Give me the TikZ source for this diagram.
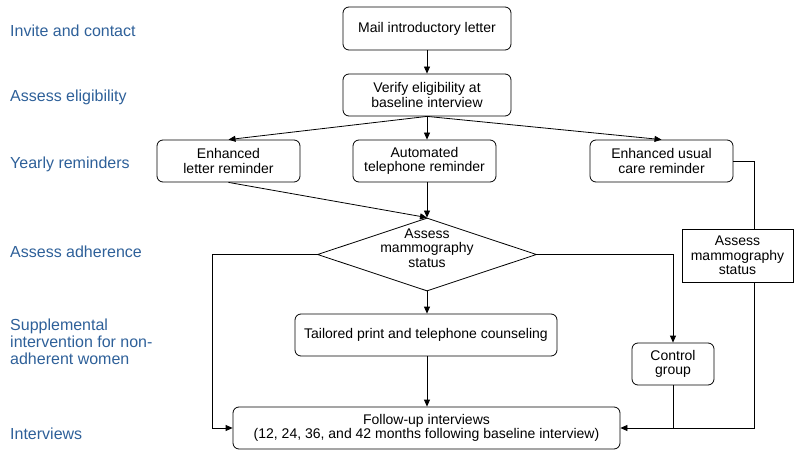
\documentclass[tikz,border=0pt]{standalone}
\usepackage{fontspec}
\setmainfont{Liberation Sans}
\usetikzlibrary{shapes.geometric,arrows.meta}
\definecolor{labblue}{HTML}{2E6099}
\begin{document}
\begin{tikzpicture}[x=1pt,y=-1pt,
 box/.style={draw, rounded corners=6pt, align=center, font=\fontsize{14}{14.5}\selectfont, inner sep=0pt, line width=0.8pt},
 sqbox/.style={draw, align=center, font=\fontsize{14}{14.5}\selectfont, inner sep=0pt, line width=0.8pt},
 lab/.style={anchor=west, text=labblue, align=left, font=\fontsize{16}{17}\selectfont, inner sep=0pt},
 arr/.style={-{Triangle[length=7pt,width=6pt]}, line width=0.8pt},
 ln/.style={line width=0.8pt}]
\useasboundingbox (0,0) rectangle (800,454);

% left labels
\node[lab] (l1) at (10,31) {Invite and contact};
\node[lab] (l2) at (10,97) {Assess eligibility};
\node[lab] (l3) at (10,164) {Yearly reminders};
\node[lab] (l4) at (10,252) {Assess adherence};
\node[lab] (l5) at (10,342) {Supplemental\\intervention for non-\\adherent women};
\node[lab] (l6) at (10,434) {Interviews};

% boxes
\node[box, minimum width=168pt, minimum height=43pt] (mail) at (427,28.5) {Mail introductory letter};
\node[box, minimum width=168pt, minimum height=42pt] (verify) at (427,95) {Verify eligibility at\\baseline interview};
\node[box, minimum width=143pt, minimum height=42pt] (letter) at (228.5,161) {Enhanced\\letter reminder};
\node[box, minimum width=143pt, minimum height=42pt] (auto) at (424.5,161) {Automated\\telephone reminder};
\node[box, minimum width=143pt, minimum height=42pt] (usual) at (661.5,161) {Enhanced usual\\care reminder};
\node[draw, diamond, minimum width=219pt, minimum height=73pt, inner sep=0pt, line width=0.8pt] (dia) at (427,254.5) {};
\node[align=center, font=\fontsize{14}{14.5}\selectfont, inner sep=0pt] (diatext) at (427,248) {Assess\\mammography\\status};
\node[sqbox, minimum width=111pt, minimum height=53pt] (assess2) at (737.5,255.5) {Assess\\mammography\\status};
\node[box, minimum width=82pt, minimum height=42pt] (control) at (673,364) {Control\\group};
\node[box, minimum width=262pt, minimum height=42pt] (tailored) at (426,335) {Tailored print and telephone counseling};
\node[box, minimum width=387pt, minimum height=42pt] (follow) at (426.5,428) {Follow-up interviews\\(12, 24, 36, and 42 months following baseline interview)};

\coordinate (lx) at (212,254.5);
\coordinate (rx) at (754,161);

% connectors
\draw[arr] (mail.south) -- (verify.north);
\draw[arr] (verify.south) -- (letter.north);
\draw[arr] (verify.south) -- (verify.south |- auto.north);
\draw[arr] (verify.south) -- (usual.north);
\draw[arr] (letter.south) -- (dia.north);
\draw[arr] (auto.south -| dia.north) -- (dia.north);
\draw[arr] (dia.south) -- (dia.south |- tailored.north);
\draw[arr] (tailored.south -| dia.south) -- (dia.south |- follow.north);
\draw[arr] (dia.west) -- (lx) |- (follow.west);
\draw[arr] (dia.east) -| (control.north);
\draw[ln] (control.south) -- (control.south |- follow.east);
\draw[ln] (usual.east) -- (rx) -- (rx |- assess2.north);
\draw[arr] (rx |- assess2.south) -- (rx |- follow.east) -- (follow.east);
\end{tikzpicture}
\end{document}
